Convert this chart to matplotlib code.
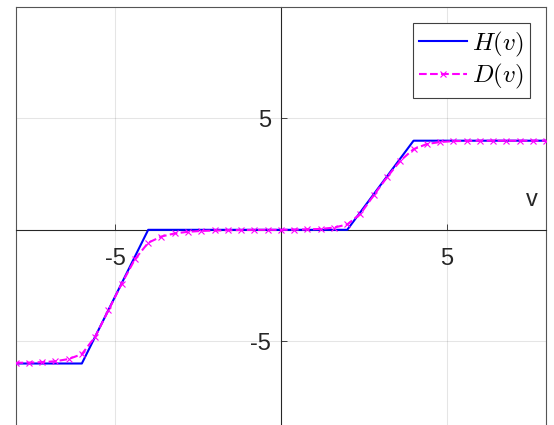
import matplotlib.pyplot as plt

plt.rcParams['font.family'] = ['Liberation Sans', 'DejaVu Sans']
plt.rcParams['mathtext.fontset'] = 'cm'
plt.rcParams['axes.unicode_minus'] = False

# H(v): piecewise linear target
h_x = [-8, -6, -4, 2, 4, 8]
h_y = [-6, -6, 0, 0, 4, 4]

# D(v): fitted approximation
d_x = [-8.0, -7.6, -7.2, -6.8, -6.4, -6.0, -5.6, -5.2, -4.8, -4.4,
       -4.0, -3.6, -3.2, -2.8, -2.4, -2.0, -1.6, -1.2, -0.8, -0.4,
       0.0, 0.4, 0.8, 1.2, 1.6, 2.0, 2.4, 2.8, 3.2, 3.6,
       4.0, 4.4, 4.8, 5.2, 5.6, 6.0, 6.4, 6.8, 7.2, 7.6, 8.0]
d_y = [-5.97, -5.96, -5.94, -5.9, -5.8, -5.58, -4.8, -3.62, -2.42, -1.32,
       -0.58, -0.3, -0.16, -0.09, -0.05, -0.03, -0.02, -0.01, 0.0, 0.0,
       0.0, 0.01, 0.02, 0.04, 0.1, 0.24, 0.72, 1.55, 2.36, 3.1,
       3.62, 3.85, 3.94, 3.98, 3.99, 4.0, 4.0, 4.0, 4.0, 4.0, 4.0]

fig = plt.figure(figsize=(5.54, 4.25), dpi=100)
ax = fig.add_axes([0.028, -0.065, 0.958, 1.0485])

ax.plot(h_x, h_y, color='#0000ff', lw=1.5, label='$H(v)$', zorder=3)
ax.plot(d_x, d_y, color='#ff00ff', lw=1.5, ls='--', marker='x', ms=4,
        mew=0.8, label='$D(v)$', zorder=4)

ax.set_xlim(-8, 8)
ax.set_ylim(-10, 10)
ax.set_xticks([-5, 5])
ax.set_yticks([-5, 5])
ax.grid(True, color='#000000', alpha=0.1, lw=0.8)

axis_col = '#262626'
ax.spines['left'].set_position(('data', 0))
ax.spines['bottom'].set_position(('data', 0))
for s in ['left', 'bottom']:
    ax.spines[s].set_color(axis_col)
    ax.spines[s].set_linewidth(0.8)
for s in ['top', 'right']:
    ax.spines[s].set_color('#555555')
    ax.spines[s].set_linewidth(0.8)
# outer frame at the left edge
ax.plot([0, 0], [0, 1], transform=ax.transAxes, color='#555555', lw=0.8, clip_on=False)

ax.tick_params(axis='both', direction='in', length=4, width=0.6, colors=axis_col,
               labelsize=17, labelcolor='#262626')
ax.tick_params(axis='y', pad=7)
ax.tick_params(axis='x', pad=13)

ax.set_xlabel('v', fontsize=17, color='#262626')
ax.xaxis.set_label_coords(0.973, 0.568)
ax.xaxis.label.set_va('center')

leg = ax.legend(loc='upper right', fontsize=18, fancybox=False, framealpha=1,
                edgecolor='#404040', handlelength=1.9, handletextpad=0.2,
                borderaxespad=0.65, borderpad=0.25, labelspacing=0.15)
leg.get_frame().set_linewidth(0.8)

fig.savefig('out.png', dpi=100)
